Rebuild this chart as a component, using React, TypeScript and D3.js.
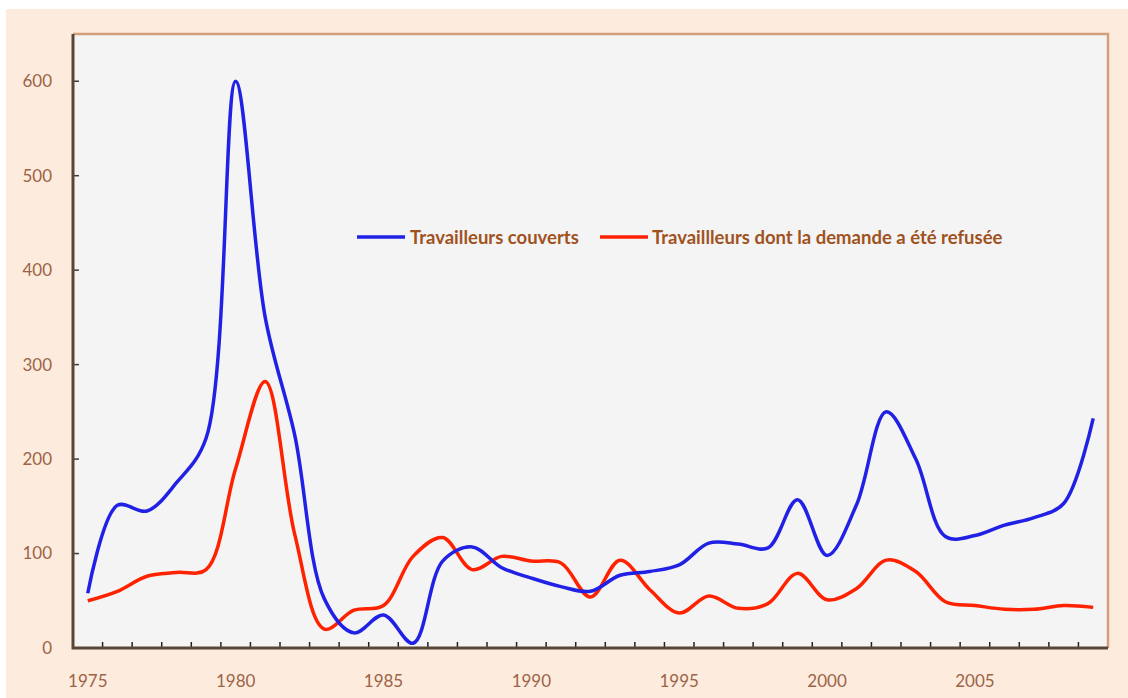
import { useEffect, useRef } from "react"
import * as d3 from "d3"

const years = d3.range(1975, 2010)
const xLabels = [1975, 1980, 1985, 1990, 1995, 2000, 2005]
const yTicks = [0, 100, 200, 300, 400, 500, 600]

// Travailleurs couverts
const covered = [
  58, 151, 145, 175, 222, 600, 350, 225, 52, 16, 35, 5, 92, 107, 85, 74, 65,
  60, 77, 81, 88, 111, 110, 106, 157, 98, 152, 250, 200, 118, 119, 130, 138,
  153, 243,
]
// Travailleurs dont la demande a été refusée
const refused = [
  50, 60, 76, 80, 83, 190, 282, 120, 20, 40, 45, 97, 117, 83, 97, 92, 90, 54,
  93, 62, 37, 55, 42, 47, 79, 51, 63, 93, 81, 49, 45, 41, 41, 45, 43,
]

const legend = [
  { label: "Travailleurs couverts", color: "#2121e6", lx: 357, tx: 410 },
  { label: "Travaillleurs dont la demande a été refusée", color: "#ff2200", lx: 600, tx: 652 },
]

const W = 1128, H = 698
const L = 73, R = 1108, T = 34, B = 648

export default function App() {
  const ref = useRef<SVGSVGElement>(null)

  useEffect(() => {
    const svg = d3.select(ref.current!)
    svg.selectAll("*").remove()

    const x = d3.scaleBand<number>().domain(years).range([L, R])
    const cx = (yr: number) => x(yr)! + x.bandwidth() / 2
    const y = d3.scaleLinear().domain([0, 650]).range([B, T])

    svg.append("rect").attr("x", 6).attr("y", 9).attr("width", W - 6).attr("height", H - 9).attr("fill", "#fdebdd")
    svg.append("rect").attr("x", L).attr("y", T).attr("width", R - L).attr("height", B - T).attr("fill", "#f4f4f4")

    // top and right frame
    svg.append("path").attr("d", `M${L},${T}H${R}V${B}`).attr("fill", "none")
      .attr("stroke", "#d4a07c").attr("stroke-width", 2.5)

    // y ticks + labels
    yTicks.forEach(v => {
      if (v > 0) {
        svg.append("line").attr("x1", L).attr("x2", L + 6).attr("y1", y(v)).attr("y2", y(v))
          .attr("stroke", "#4a3a30").attr("stroke-width", 1.5)
      }
      svg.append("text").attr("x", 52).attr("y", y(v)).attr("dy", "0.35em")
        .attr("text-anchor", "end").attr("font-family", "Lato").attr("font-size", 17)
        .attr("fill", "#9c6347").text(v)
    })

    // x ticks at category boundaries
    years.slice(1).forEach(yr => {
      svg.append("line").attr("x1", x(yr)!).attr("x2", x(yr)!).attr("y1", B).attr("y2", B - 6)
        .attr("stroke", "#222").attr("stroke-width", 1.5)
    })
    xLabels.forEach(yr => {
      svg.append("text").attr("x", cx(yr)).attr("y", 681).attr("dy", "0.35em")
        .attr("text-anchor", "middle").attr("font-family", "Lato").attr("font-size", 17)
        .attr("fill", "#9c6347").text(yr)
    })

    // axes
    svg.append("path").attr("d", `M${L},${T}V${B}H${R}`).attr("fill", "none")
      .attr("stroke", "#5b4636").attr("stroke-width", 3)

    const line = d3.line<number>()
      .x((_, i) => cx(years[i]))
      .y(d => y(d))
      .curve(d3.curveCatmullRom.alpha(0.5))

    svg.append("path").attr("d", line(refused) || "").attr("fill", "none")
      .attr("stroke", legend[1].color).attr("stroke-width", 3.5)
    svg.append("path").attr("d", line(covered) || "").attr("fill", "none")
      .attr("stroke", legend[0].color).attr("stroke-width", 3.5)

    legend.forEach(l => {
      svg.append("line").attr("x1", l.lx).attr("x2", l.lx + 48).attr("y1", 237).attr("y2", 237)
        .attr("stroke", l.color).attr("stroke-width", 3.5)
      svg.append("text").attr("x", l.tx).attr("y", 238).attr("dy", "0.35em")
        .attr("font-family", "Lato").attr("font-weight", "bold").attr("font-size", 18.5)
        .attr("fill", "#a0521e").text(l.label)
    })
  }, [])

  return (
    <div style={{ position: "absolute", left: 0, top: 0 }}>
      <svg ref={ref} width={W} height={H} style={{ display: "block" }} />
    </div>
  )
}
